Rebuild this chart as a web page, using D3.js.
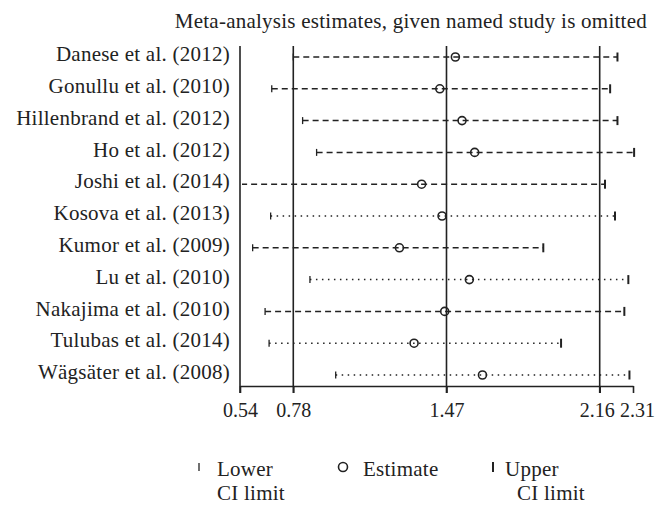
<!DOCTYPE html>
<html><head><meta charset="utf-8">
<script src="https://cdn.jsdelivr.net/npm/d3@7"></script>
<style>body{margin:0;background:#fff}svg{display:block}</style>
</head><body>
<script>
const studies = ["Danese et al. (2012)","Gonullu et al. (2010)","Hillenbrand et al. (2012)","Ho et al. (2012)","Joshi et al. (2014)","Kosova et al. (2013)","Kumor et al. (2009)","Lu et al. (2010)","Nakajima et al. (2010)","Tulubas et al. (2014)","Wägsäter et al. (2008)"];
const lower    = [0.78, 0.683, 0.822, 0.885, 0.50, 0.678, 0.597, 0.855, 0.653, 0.671, 0.971];
const estimate = [1.51, 1.44, 1.54, 1.597, 1.358, 1.45, 1.258, 1.573, 1.462, 1.324, 1.632];
const upper    = [2.24, 2.207, 2.24, 2.315, 2.184, 2.229, 1.906, 2.289, 2.271, 1.986, 2.294];
const lineStyle = ["dashed","dashed","dashed","dashed","dashed","dotted","dashed","dotted","dashed","dotted","dotted"];
const tickValues = [0.54, 0.78, 1.47, 2.16, 2.31];
const refLines = [0.78, 1.47, 2.16];
const title = "Meta-analysis estimates, given named study is omitted";

const W = 668, H = 513;
const FONT = "'Liberation Serif', 'DejaVu Serif', serif";
const FS = 21, LS = "0.25px";
const ink = "#222";
const svg = d3.select("body").append("svg").attr("width", W).attr("height", H)
  .style("font-family", FONT).style("letter-spacing", LS);

const x = d3.scaleLinear().domain([0.54, 2.31]).range([240, 633]);
const y = d3.scalePoint().domain(studies).range([57, 375]);
const axisY = 386, topY = 46;

svg.append("text").attr("x", 647).attr("y", 28).attr("text-anchor", "end")
  .attr("font-size", FS).attr("fill", ink).text(title);

// reference lines
svg.selectAll(".ref").data([0.54].concat(refLines)).join("line")
  .attr("x1", d => x(d)).attr("x2", d => x(d))
  .attr("y1", topY).attr("y2", axisY + 7)
  .attr("stroke", ink).attr("stroke-width", 1.6);

// x axis
const xAxis = d3.axisBottom(x).tickValues(tickValues).tickSize(7).tickSizeOuter(0)
  .tickFormat(d3.format(".2f"));
const gx = svg.append("g").attr("transform", `translate(0,${axisY})`).call(xAxis);
gx.select(".domain").attr("stroke", ink).attr("stroke-width", 1.6);
gx.selectAll(".tick line").attr("stroke", ink).attr("stroke-width", 1.6);
gx.selectAll(".tick text").attr("font-family", FONT).attr("font-size", 20)
  .style("letter-spacing", "0px")
  .attr("fill", ink).attr("dy", "1.03em")
  .attr("dx", d => d === 2.16 ? -3 : d === 2.31 ? 4 : 0);

// labels
svg.selectAll(".lab").data(studies).join("text")
  .attr("x", 230).attr("y", d => y(d)).attr("dy", "0.2em")
  .attr("text-anchor", "end").attr("font-size", FS).attr("fill", ink).text(d => d);

svg.append("clipPath").attr("id", "plot").append("rect")
  .attr("x", 242).attr("y", 0).attr("width", 420).attr("height", H);

const rows = studies.map((s, i) => ({s, lo: lower[i], est: estimate[i], up: upper[i], st: lineStyle[i]}));
const g = svg.append("g");
g.selectAll(".ci").data(rows).join("line")
  .attr("clip-path", "url(#plot)")
  .attr("x1", d => x(d.lo)).attr("x2", d => x(d.up))
  .attr("y1", d => y(d.s)).attr("y2", d => y(d.s))
  .attr("stroke", ink).attr("stroke-width", 1.5)
  .attr("stroke-dasharray", d => d.st === "dashed" ? "6,4" : "1.5,4.5");
g.selectAll(".lo").data(rows.filter(d => d.lo >= 0.54)).join("line")
  .attr("x1", d => x(d.lo)).attr("x2", d => x(d.lo))
  .attr("y1", d => y(d.s) - 3.5).attr("y2", d => y(d.s) + 3.5)
  .attr("stroke", ink).attr("stroke-width", 1.3);
g.selectAll(".up").data(rows).join("line")
  .attr("x1", d => x(d.up)).attr("x2", d => x(d.up))
  .attr("y1", d => y(d.s) - 4.5).attr("y2", d => y(d.s) + 4.5)
  .attr("stroke", ink).attr("stroke-width", 2);
g.selectAll(".est").data(rows).join("circle")
  .attr("cx", d => x(d.est)).attr("cy", d => y(d.s)).attr("r", 4)
  .attr("fill", "none").attr("stroke", ink).attr("stroke-width", 1.6);

// legend
const lg = svg.append("g").attr("font-size", FS).attr("fill", ink);
lg.append("line").attr("x1", 199).attr("x2", 199).attr("y1", 463).attr("y2", 471)
  .attr("stroke", ink).attr("stroke-width", 1.3);
lg.append("text").attr("x", 217).attr("y", 476).text("Lower");
lg.append("text").attr("x", 217).attr("y", 500).text("CI limit");
lg.append("circle").attr("cx", 343).attr("cy", 467).attr("r", 4.5)
  .attr("fill", "none").attr("stroke", ink).attr("stroke-width", 1.6);
lg.append("text").attr("x", 363).attr("y", 476).text("Estimate");
lg.append("line").attr("x1", 493).attr("x2", 493).attr("y1", 462).attr("y2", 472)
  .attr("stroke", ink).attr("stroke-width", 2);
lg.append("text").attr("x", 505).attr("y", 476).text("Upper");
lg.append("text").attr("x", 517).attr("y", 500).text("CI limit");
</script>
</body></html>
